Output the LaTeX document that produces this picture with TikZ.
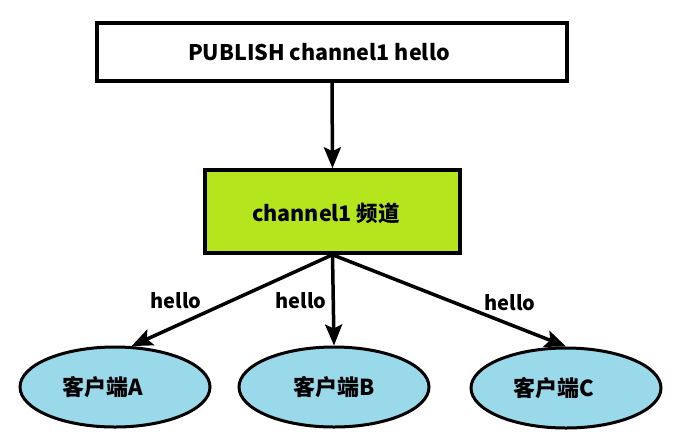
\documentclass[tikz,border=0pt]{standalone}
\usepackage{fontspec}
\setmainfont{Noto Sans CJK SC}
\usetikzlibrary{shapes.geometric,arrows.meta}
\definecolor{limeg}{HTML}{B5E61D}
\definecolor{skyb}{HTML}{99D9EA}
\begin{document}
\begin{tikzpicture}[x=1pt,y=-1pt,
  every node/.style={font=\fontsize{21.5}{24}\selectfont\bfseries},
  boxnode/.style={draw,line width=3.5pt,inner sep=0pt},
  client/.style={draw,ellipse,fill=skyb,line width=3pt,minimum width=190pt,minimum height=80pt,inner sep=0pt},
  ctext/.style={font=\fontsize{22}{24}\selectfont\bfseries},
  arr/.style={line width=3.5pt,-{Stealth[length=21pt,width=17pt,inset=4pt]}},
  lbl/.style={inner sep=0pt,font=\fontsize{20}{22}\selectfont\bfseries}]
\useasboundingbox (0,0) rectangle (676,440);
\node[boxnode,fill=white,minimum width=470pt,minimum height=58pt] (pub) at (332,52) {};
\node at (319,52) {PUBLISH channel1 hello};
\node[boxnode,fill=limeg,minimum width=255pt,minimum height=83pt] (ch) at (332.5,211.5) {};
\node at (326,213) {channel1 频道};
\node[client] (A) at (115,387) {};
\node[ctext] at (103,387) {客户端A};
\node[client] (B) at (334,387) {};
\node[ctext] at (334,387) {客户端B};
\node[client] (C) at (566,388) {};
\node[ctext] at (554,388) {客户端C};
\draw[arr] (pub.south) -- (ch.north);
\draw[arr] (ch.south) -- (A.68);
\draw[arr] (ch.south) -- (B.north);
\draw[arr] (ch.south) -- (C.north);
\node[lbl] at (176,301) {hello};
\node[lbl] at (301,301) {hello};
\node[lbl] at (510,303) {hello};
\end{tikzpicture}
\end{document}
